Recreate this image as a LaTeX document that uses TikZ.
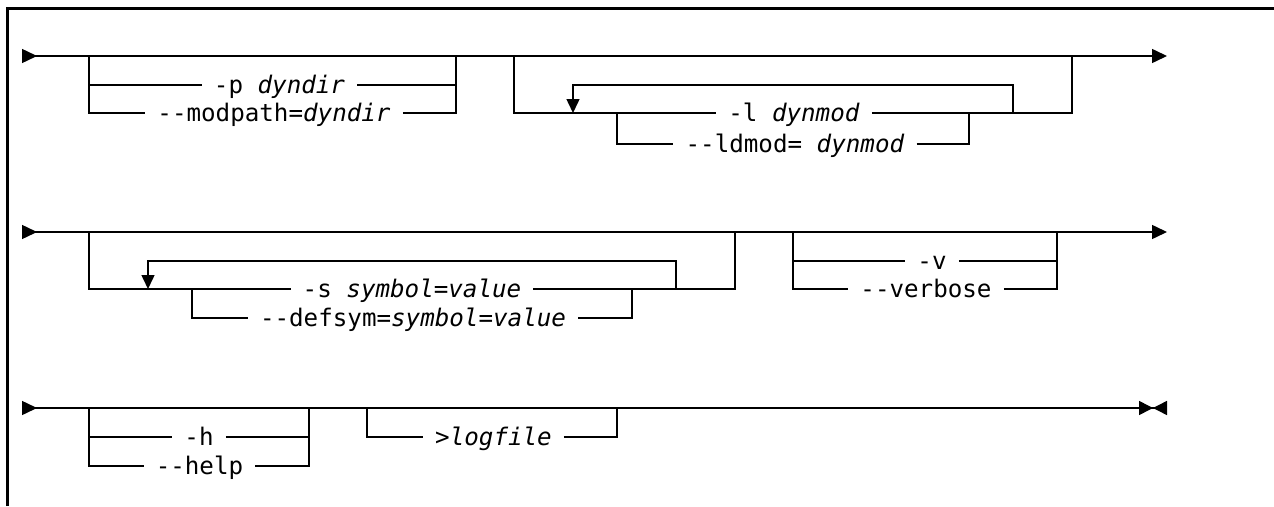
\documentclass[tikz,border=0pt]{standalone}
\usepackage{fontspec}
\setmonofont{DejaVu Sans Mono}
\usetikzlibrary{arrows.meta}
\tikzset{
  rail/.style={line width=1.5pt},
  opt/.style={font=\ttfamily\fontsize{24.2}{24.2}\selectfont, inner xsep=12pt, inner ysep=0pt, text height=17pt, text depth=0pt},
  railends/.style={{Triangle[reversed,length=15pt,width=14pt]}-{Triangle[length=15pt,width=14pt]}},
  railstop/.style={{Triangle[reversed,length=15pt,width=14pt]}-{Triangle[length=14pt,width=14pt,sep=0pt]Triangle[reversed,length=14pt,width=14pt]}},
  back/.style={-{Triangle[length=14pt,width=13pt]}}
}
\begin{document}
\begin{tikzpicture}[x=1pt,y=-1pt]
\useasboundingbox (0,0) rectangle (1274,506);
\draw[line width=3pt] (7,506) -- (7,8) -- (1274,8);
% first line
\coordinate (r1in) at (22,56);
\coordinate (r1out) at (1167,56);
\draw[rail,railends] (r1in) -- (r1out);
\coordinate (p1) at (89,56);
\coordinate (p2) at (456,56);
\node[opt] (pdir) at (279.5,85) {-p \textit{dyndir}};
\node[opt] (mdir) at (274,113) {--modpath=\textit{dyndir}};
\draw[rail] (p1) |- (pdir);
\draw[rail] (pdir) -| (p2);
\draw[rail] (p1) |- (mdir);
\draw[rail] (mdir) -| (p2);
\coordinate (l1) at (514,56);
\coordinate (l2) at (1072,56);
\coordinate (lrep) at (1013,113);
\coordinate (lback) at (573,113);
\coordinate (lsub1) at (617,113);
\coordinate (lsub2) at (969,113);
\node[opt] (lmod) at (794,113) {-l \textit{dynmod}};
\node[opt] (ldmod) at (795,144) {--ldmod= \textit{dynmod}};
\draw[rail] (l1) |- (lmod);
\draw[rail] (lmod) -| (l2);
\draw[rail] (lsub1) |- (ldmod);
\draw[rail] (ldmod) -| (lsub2);
\draw[rail,back] (lrep) -- ++(0,-28) -| (lback);
% second line
\coordinate (r2in) at (22,232);
\coordinate (r2out) at (1167,232);
\draw[rail,railends] (r2in) -- (r2out);
\coordinate (s1) at (89,232);
\coordinate (s2) at (735,232);
\coordinate (srep) at (676,289);
\coordinate (sback) at (148,289);
\coordinate (ssub1) at (192,289);
\coordinate (ssub2) at (632,289);
\node[opt] (ssym) at (412,289) {-s \textit{symbol=value}};
\node[opt] (dsym) at (413,318) {--defsym=\textit{symbol=value}};
\draw[rail] (s1) |- (ssym);
\draw[rail] (ssym) -| (s2);
\draw[rail] (ssub1) |- (dsym);
\draw[rail] (dsym) -| (ssub2);
\draw[rail,back] (srep) -- ++(0,-28) -| (sback);
\coordinate (v1) at (793,232);
\coordinate (v2) at (1057,232);
\node[opt] (vshort) at (932,261) {-v};
\node[opt] (vlong) at (926,289) {--verbose};
\draw[rail] (v1) |- (vshort);
\draw[rail] (vshort) -| (v2);
\draw[rail] (v1) |- (vlong);
\draw[rail] (vlong) -| (v2);
% third line
\coordinate (r3in) at (22,408);
\coordinate (r3out) at (1167,408);
\draw[rail,railstop] (r3in) -- (r3out);
\coordinate (h1) at (89,408);
\coordinate (h2) at (309,408);
\node[opt] (hshort) at (199,437) {-h};
\node[opt] (hlong) at (199.5,466) {--help};
\draw[rail] (h1) |- (hshort);
\draw[rail] (hshort) -| (h2);
\draw[rail] (h1) |- (hlong);
\draw[rail] (hlong) -| (h2);
\coordinate (g1) at (367,408);
\coordinate (g2) at (617,408);
\node[opt] (logf) at (493.5,437) {\textit{>logfile}};
\draw[rail] (g1) |- (logf);
\draw[rail] (logf) -| (g2);
\end{tikzpicture}
\end{document}
